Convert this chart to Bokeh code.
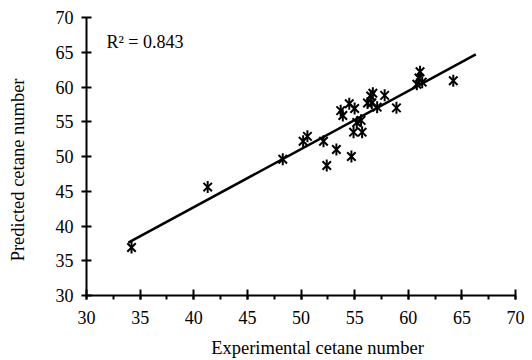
import math
from bokeh.plotting import figure
from bokeh.models import SingleIntervalTicker, Label, Range1d
from bokeh.embed import file_html
from bokeh.resources import INLINE

# Data
experimental = [34.2, 41.3, 48.3, 50.2, 50.6, 52.1, 53.3, 52.4, 54.7, 53.7,
                53.9, 54.5, 55.0, 55.2, 55.6, 54.9, 55.7, 56.2, 56.5, 56.7,
                56.6, 57.1, 57.8, 58.9, 60.8, 61.0, 61.1, 61.3, 64.2]
predicted = [36.9, 45.6, 49.6, 52.2, 52.9, 52.2, 51.0, 48.7, 50.0, 56.6,
             55.9, 57.6, 56.9, 54.9, 55.2, 53.5, 53.5, 57.7, 58.7, 59.1,
             57.7, 57.1, 58.8, 57.0, 60.4, 61.3, 62.2, 60.7, 60.9]
fit_x = [33.9, 66.3]
fit_y = [37.6, 64.7]
r2_text = "R² = 0.843"
x_title = "Experimental cetane number"
y_title = "Predicted cetane number"

FONT = "Liberation Serif"

p = figure(width=532, height=360, x_range=Range1d(30, 70), y_range=Range1d(30, 70),
           output_backend="svg", toolbar_location=None,
           min_border_left=86, min_border_right=17, min_border_top=17, min_border_bottom=65)
p.outline_line_color = None
p.grid.visible = False
p.background_fill_color = "white"
p.border_fill_color = "white"

xa = p.xaxis[0]
xa.ticker = SingleIntervalTicker(interval=5, num_minor_ticks=2)
xa.axis_line_width = 2
xa.major_tick_line_width = 2
xa.minor_tick_line_width = 2
xa.major_tick_in = 6
xa.major_tick_out = 4
xa.minor_tick_in = 0
xa.minor_tick_out = 4
xa.major_label_standoff = 11

ya = p.yaxis[0]
ya.ticker = SingleIntervalTicker(interval=5)
ya.axis_line_width = 2
ya.major_tick_line_width = 2
ya.minor_tick_line_color = None
ya.major_tick_in = 5
ya.major_tick_out = 5
ya.major_label_standoff = 8

for ax in (xa, ya):
    ax.axis_line_color = "black"
    ax.major_tick_line_color = "black"
    ax.major_label_text_font = FONT
    ax.major_label_text_font_size = "18px"
    ax.major_label_text_color = "black"
    ax.axis_label = None
xa.minor_tick_line_color = "black"

p.line(fit_x, fit_y, line_color="black", line_width=2.5)
p.scatter(experimental, predicted, marker="x", size=12, line_color="black", line_width=2)
p.scatter(experimental, predicted, marker="dash", angle=math.pi / 2, size=12,
          line_color="black", line_width=2)

p.add_layout(Label(x=31.86, y=66.5, text=r2_text, text_font=FONT, text_font_size="18px",
                   text_color="black", text_baseline="alphabetic", text_align="left"))

p.add_layout(Label(x=51.54, y=22.4, text=x_title, text_font=FONT, text_font_size="18.5px",
                   text_color="black", text_baseline="middle", text_align="center"), "below")
p.add_layout(Label(x=23.57, y=48.07, text=y_title, text_font=FONT, text_font_size="18.5px",
                   text_color="black", text_baseline="middle", text_align="center",
                   angle=math.pi / 2), "left")

open("out.html", "w").write(file_html(p, INLINE))
